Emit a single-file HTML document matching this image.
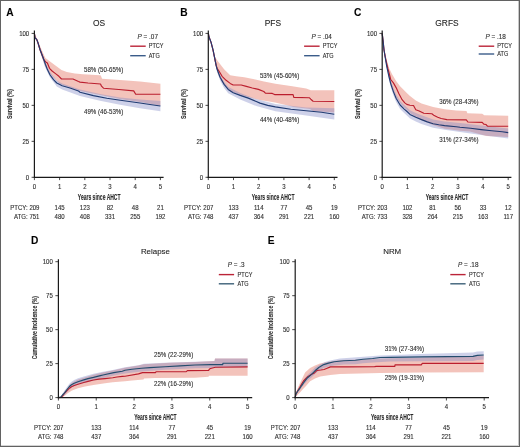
<!DOCTYPE html>
<html><head><meta charset="utf-8"><title>Figure</title>
<style>html,body{margin:0;padding:0;background:#fff;}svg{display:block;}text{font-family:"Liberation Sans",sans-serif;stroke:#333;stroke-width:0.12px;}</style>
</head><body>
<svg width="520" height="447" viewBox="0 0 520 447" font-family="Liberation Sans, sans-serif">
<rect x="0" y="0" width="520" height="447" fill="#fff"/>
<polygon points="34.4,33.4 36,36.5 40,46 43,53 45.4,58 50.7,62.1 56.1,66.1 61.5,70.1 66.8,72.1 74.9,73.5 83,74.2 100,75.3 100.8,75.5 102.1,78.8 120,80 140,81.5 160.4,83.8 160.4,105.4 140,102 120,99 100,95 80,91 60,84 50,74 45,66 40,52 34.4,33.4" fill="#e57a68" fill-opacity="0.45" stroke="none"/>
<polygon points="34.4,33.4 40,48.5 45,62 50,72 56.8,80.5 62.2,83.5 80,89.5 100,94 120,97.5 140,99.5 160.4,101 160.4,111.3 140,108.2 120,104.8 100,100.8 80,96 62.2,89.5 56.8,86.5 50,77.5 45,67 40,50.5 34.4,33.4" fill="#7f86c4" fill-opacity="0.38" stroke="none"/>
<polyline points="34.4,33.4 35.1,38 36.7,39.4 38,42.8 40,49.5 42,54.8 44.1,60.2 46.1,62.2 47.4,63 49.5,68.3 52.1,71 55.5,73.6 58.9,76.3 61.5,79 73,79 78.5,81.5 80,82.1 88,83 100.5,84 101.5,86.2 103.5,88.2 118.9,89.5 133.7,90.9 135.7,94.2 160.4,94.2" fill="none" stroke="#bb1e2e" stroke-width="1.15" stroke-linejoin="round"/>
<polyline points="34.4,33.4 35.1,38 36.7,39.4 38,42.8 40,49.5 42,54.8 44.1,60.2 45.4,64.2 47.4,69.6 50.1,75 53.5,79.7 56.8,83 62.2,85.7 70,88 78.5,91 80,92.2 93.4,95.6 106.8,98.3 120.3,100.3 140,103 150,104.5 160.4,106" fill="none" stroke="#213b72" stroke-width="1.15" stroke-linejoin="round"/>
<polygon points="208.3,33.2 210,38 212,45 214.1,55 216,58.5 218.1,61.5 224.1,69.3 230.2,75.3 236.2,76.3 244.3,77.3 254.3,79.3 264,81.4 275.4,83.8 292.3,86.2 306.2,88.5 310.8,90.3 334.3,90.3 334.3,112.5 313,111 310,109 293.5,107 290,106 275,102.5 260,100 240,95 230,91 222,82 218,74 215,63 211,44 208.3,33.2" fill="#e57a68" fill-opacity="0.45" stroke="none"/>
<polygon points="208.3,33.2 211,41 215.1,58.5 217.1,67.3 220.1,75.3 224.1,82 228.2,87 240.2,93 256.3,99 275.4,104 306.2,107.5 334.3,108.2 334.3,119.5 306.2,115.5 275.4,111.2 256.3,106 240.2,99.5 228.2,93.3 224.1,88 220.1,80.5 217.1,72 215.1,62.5 211,43 208.3,33.2" fill="#7f86c4" fill-opacity="0.38" stroke="none"/>
<polyline points="208.3,33.2 209,37 211,42.1 213.1,50.1 215.1,60.2 216.1,65.2 217.1,68.3 219.1,71.3 222.1,76.3 226.1,80.3 230.2,83.4 233.2,85 241.2,85 246.3,86.4 252.3,88 258.4,89.4 263.8,91.5 265.4,93.1 272.3,93.4 274.6,94.6 293.1,94.6 293.8,97.4 309.2,97.7 310.8,99.2 313.1,101.2 334.3,101.5" fill="none" stroke="#bb1e2e" stroke-width="1.15" stroke-linejoin="round"/>
<polyline points="208.3,33.2 209,37 211,42.1 213.1,50.1 215.1,60.2 216.1,65.2 217.1,69.3 220.1,77.3 224.1,84.4 228.2,89.4 233.2,92.8 240.2,95.4 248.3,98.1 256.3,101.5 260,103.1 267.7,105.4 275.4,106.9 290.8,109.2 306.2,110.8 321.5,112.3 334.3,114.3" fill="none" stroke="#213b72" stroke-width="1.15" stroke-linejoin="round"/>
<polygon points="382.2,33.6 384,47 386.7,60 389.4,68.8 392.1,74.2 396.1,80.9 400.1,86.2 406.8,93 410,96 415.8,100.6 421.5,103.5 433.1,106.9 444.6,109.2 456.2,110.6 466.5,111.1 467.4,113.2 482.2,113.7 484.3,115.3 508.2,115.7 508.2,137 486.4,136 470,131.5 460,130.7 444.6,128.8 433.1,125 421.5,120 415.8,117 410,113 404.2,107.5 400.1,103 396.1,97 393.4,91 390.7,84 388.7,76 386.7,67 384,52 382.2,33.6" fill="#e57a68" fill-opacity="0.45" stroke="none"/>
<polygon points="382.2,33.6 384,48.5 385.3,55.5 386.7,63.5 388.7,72.5 390.7,80.3 393.4,88 396.1,94.5 400.1,101 404.2,105 410,110.2 415.8,113 421.5,115.3 433.1,119.5 444.6,121.4 460,123.1 481.2,125.4 508.2,128.4 508.2,138.4 481.2,135 460,132 444.6,129.8 433.1,127.7 421.5,124 415.8,121.5 410,118.5 404.2,113 400.1,109 396.1,102 393.4,95.2 390.7,87 388.7,78.5 386.7,68.7 385.3,60.5 384,51.5 382.2,33.6" fill="#7f86c4" fill-opacity="0.38" stroke="none"/>
<polyline points="382.2,33.6 383,40 384,50 385.3,57 386.7,63.4 388,69 389.4,74.2 390.7,79.5 393.4,82.9 396.1,87.6 398.8,93.6 402.1,99.7 404.8,102.9 406.8,104.4 410,105.2 413.5,105.5 415.8,109.8 419.2,111 423.8,113.3 431.9,113.8 434.2,115.6 437.7,117.3 441.2,118.5 446.9,119.6 466.3,119.9 467.9,122 482.2,122.4 483.8,124.1 485.9,124.5 487.5,126.2 508.2,126.2" fill="none" stroke="#bb1e2e" stroke-width="1.15" stroke-linejoin="round"/>
<polyline points="382.2,33.6 383,40 384,50 385.3,58 386.7,66.1 388.7,75.5 390.7,83.6 393.4,91.6 396.1,98.3 400.1,105 404.2,109.1 407,111.5 410,114.4 415.8,117.3 421.5,119.6 427.3,121.9 433.1,123.7 438.8,124.8 444.6,125.6 456.2,126.8 460,127.3 470.6,128.3 481.2,129.6 491.7,130.7 502.3,131.7 508.2,132.6" fill="none" stroke="#213b72" stroke-width="1.15" stroke-linejoin="round"/>
<polygon points="58.4,397.6 61,396.8 63,394.3 65,391.5 67.5,388.3 69.4,385.5 71.5,383.3 74.2,381.5 78,379.6 83.8,377.7 93.5,374.8 103,372.6 112.7,370.6 125,367.8 138.5,365.6 144,364.2 170,362.8 195,362 214.5,360.9 215,358.5 247.6,358.5 247.6,375.7 209,375.7 208.5,376.7 195,377.8 155,378 144,378.5 143.5,379.5 132,380.4 125,381.2 112.7,382.3 105,383.3 93.5,385 85,386.5 78,388.3 72,390.5 68,393 65,395.5 62,397.4 58.4,397.6" fill="#e57a68" fill-opacity="0.45" stroke="none"/>
<polygon points="58.4,397.6 60.8,396.3 62.5,393.5 64.6,390.6 67,387 69.4,383.8 71.5,381.8 74.2,380 78,378.3 83.8,376.5 93.5,373.8 103,371.8 112.7,370 125,367.2 138.5,365.2 144,363.8 170,362.5 195,361.8 214.5,360.9 215,358.5 247.6,358.5 247.6,367.3 223,367.3 222.7,367.8 195,368.2 165,369.8 141.5,371.4 125,373.4 113.8,375.6 103,378.2 93.5,380.4 83.8,382.9 78,384.6 74.2,386.2 71.5,387.6 69.4,389.4 67,392.3 64.6,395.2 62.5,396.5 60.8,397.6 58.4,397.6" fill="#7f86c4" fill-opacity="0.38" stroke="none"/>
<polyline points="58.4,397.6 61,397.4 63,395.5 65,392.5 67.5,390 69.4,388.2 71.5,386.7 74.2,385.5 78,384.2 83.8,382.5 88,381.4 93.5,380 99,379.1 105,378.6 112.7,377.8 117,377 122.3,376.4 125,376.2 138.5,373.9 142.5,372.6 155.6,372.6 156,371.8 186.3,371.6 187.4,370.6 208.6,370.4 209.5,369.1 210.6,368.5 215.3,367.2 247.6,366.9" fill="none" stroke="#bb1e2e" stroke-width="1.15" stroke-linejoin="round"/>
<polyline points="58.4,397.6 60.8,397.1 62.5,395 64.6,392.9 67,389.5 69.4,386.5 71.5,384.8 74.2,383.3 78,381.7 83.8,379.9 88,378.6 93.5,377.4 100.4,375.6 103,375 113.8,372.6 122.3,371.2 125,370.2 132,369.3 141.5,368.2 150,367.6 165,366.7 180,365.9 195,365 210.6,364.6 222.7,364.6 223,363.2 247.6,363.2" fill="none" stroke="#244d6e" stroke-width="1.15" stroke-linejoin="round"/>
<polygon points="295.2,397.6 296,393 298,387.5 300,383 302,379 305.1,372.5 310.1,368.1 315,365.5 320,363.5 330,361.5 340,360 360,359.5 380,358.5 420,357.5 483.7,355.5 483.7,372.3 420,372.5 380,373 340,374.1 330.2,375.1 320.2,376.6 315,378.5 310.1,381.2 306,386 303,389 300,392.5 298,394.5 296,396.5 295.2,397.6" fill="#e57a68" fill-opacity="0.45" stroke="none"/>
<polygon points="295.2,397.6 295.8,393.4 297.5,390.2 299.6,387 301.5,383.8 303.5,380.6 305.4,377.8 307.3,375.2 311.2,371.5 315,367.6 320.2,364.6 325,362 330,360.5 340,358.5 360,357 380,355.5 420,354 473,352.5 477.3,351.5 483.7,351.2 483.7,359.6 477.3,360 473,360.9 422.3,361.3 390,361.6 372.7,362.6 363,363.2 355.4,364.2 343.8,364.6 334.2,365.4 328.5,366.6 323.7,367.9 318.8,370.7 315,374 311.2,377.7 307.3,380.8 305.4,383 303.5,385.2 301.5,387.8 299.6,390.4 297.5,392.8 295.8,395.4 295.2,397.6" fill="#7f86c4" fill-opacity="0.38" stroke="none"/>
<polyline points="295.2,397.6 295.8,394.4 297.5,391 299.6,387.7 301.5,384.3 303.5,381 305.4,379 307.3,377.1 311.2,374.6 314,373.3 317,370.4 320.8,370 324,369.5 326.5,368.5 330.4,366.9 347.7,366.9 374.6,366.6 376.5,366.4 390,366.4 394.8,366.4 395,364.9 421.3,364.9 422.3,363.4 483.7,363.4" fill="none" stroke="#bb1e2e" stroke-width="1.15" stroke-linejoin="round"/>
<polyline points="295.2,397.6 295.8,394.4 297.5,391.5 299.6,388.7 301.5,385.8 303.5,382.9 305.4,380.4 307.3,378 311.2,374.6 315,370.8 318.8,367.5 323.7,364.6 328.5,363.1 334.2,361.7 343.8,360.8 355.4,360.2 363,359.2 372.7,358.5 380,357.5 390,357.4 422.3,356.9 473,356.4 477.3,355.4 483.7,355" fill="none" stroke="#244d6e" stroke-width="1.15" stroke-linejoin="round"/>
<line x1="34.4" y1="30.5" x2="34.4" y2="177.9" stroke="#1a1a1a" stroke-width="1.2"/>
<line x1="33.8" y1="177.3" x2="163.6" y2="177.3" stroke="#1a1a1a" stroke-width="1.2"/>
<line x1="208.3" y1="30.5" x2="208.3" y2="177.9" stroke="#1a1a1a" stroke-width="1.2"/>
<line x1="207.7" y1="177.3" x2="337.5" y2="177.3" stroke="#1a1a1a" stroke-width="1.2"/>
<line x1="382.2" y1="30.5" x2="382.2" y2="177.9" stroke="#1a1a1a" stroke-width="1.2"/>
<line x1="381.6" y1="177.3" x2="511.4" y2="177.3" stroke="#1a1a1a" stroke-width="1.2"/>
<line x1="58.4" y1="259.2" x2="58.4" y2="398.2" stroke="#1a1a1a" stroke-width="1.2"/>
<line x1="57.8" y1="397.6" x2="252.2" y2="397.6" stroke="#1a1a1a" stroke-width="1.2"/>
<line x1="295.2" y1="259.2" x2="295.2" y2="398.2" stroke="#1a1a1a" stroke-width="1.2"/>
<line x1="294.6" y1="397.6" x2="489" y2="397.6" stroke="#1a1a1a" stroke-width="1.2"/>
<line x1="31.6" y1="177.3" x2="34.4" y2="177.3" stroke="#1a1a1a" stroke-width="0.8"/>
<line x1="31.6" y1="141.33" x2="34.4" y2="141.33" stroke="#1a1a1a" stroke-width="0.8"/>
<line x1="31.6" y1="105.35" x2="34.4" y2="105.35" stroke="#1a1a1a" stroke-width="0.8"/>
<line x1="31.6" y1="69.38" x2="34.4" y2="69.38" stroke="#1a1a1a" stroke-width="0.8"/>
<line x1="31.6" y1="33.4" x2="34.4" y2="33.4" stroke="#1a1a1a" stroke-width="0.8"/>
<line x1="34.4" y1="177.3" x2="34.4" y2="180.1" stroke="#1a1a1a" stroke-width="0.8"/>
<line x1="59.6" y1="177.3" x2="59.6" y2="180.1" stroke="#1a1a1a" stroke-width="0.8"/>
<line x1="84.8" y1="177.3" x2="84.8" y2="180.1" stroke="#1a1a1a" stroke-width="0.8"/>
<line x1="110" y1="177.3" x2="110" y2="180.1" stroke="#1a1a1a" stroke-width="0.8"/>
<line x1="135.2" y1="177.3" x2="135.2" y2="180.1" stroke="#1a1a1a" stroke-width="0.8"/>
<line x1="160.4" y1="177.3" x2="160.4" y2="180.1" stroke="#1a1a1a" stroke-width="0.8"/>
<line x1="130.2" y1="46.2" x2="145.7" y2="46.2" stroke="#bb2438" stroke-width="1.4"/>
<line x1="130.2" y1="55.7" x2="145.7" y2="55.7" stroke="#3b5c8a" stroke-width="1.4"/>
<line x1="205.5" y1="177.3" x2="208.3" y2="177.3" stroke="#1a1a1a" stroke-width="0.8"/>
<line x1="205.5" y1="141.33" x2="208.3" y2="141.33" stroke="#1a1a1a" stroke-width="0.8"/>
<line x1="205.5" y1="105.35" x2="208.3" y2="105.35" stroke="#1a1a1a" stroke-width="0.8"/>
<line x1="205.5" y1="69.38" x2="208.3" y2="69.38" stroke="#1a1a1a" stroke-width="0.8"/>
<line x1="205.5" y1="33.4" x2="208.3" y2="33.4" stroke="#1a1a1a" stroke-width="0.8"/>
<line x1="208.3" y1="177.3" x2="208.3" y2="180.1" stroke="#1a1a1a" stroke-width="0.8"/>
<line x1="233.5" y1="177.3" x2="233.5" y2="180.1" stroke="#1a1a1a" stroke-width="0.8"/>
<line x1="258.7" y1="177.3" x2="258.7" y2="180.1" stroke="#1a1a1a" stroke-width="0.8"/>
<line x1="283.9" y1="177.3" x2="283.9" y2="180.1" stroke="#1a1a1a" stroke-width="0.8"/>
<line x1="309.1" y1="177.3" x2="309.1" y2="180.1" stroke="#1a1a1a" stroke-width="0.8"/>
<line x1="334.3" y1="177.3" x2="334.3" y2="180.1" stroke="#1a1a1a" stroke-width="0.8"/>
<line x1="304.1" y1="46.2" x2="319.6" y2="46.2" stroke="#bb2438" stroke-width="1.4"/>
<line x1="304.1" y1="55.7" x2="319.6" y2="55.7" stroke="#3b5c8a" stroke-width="1.4"/>
<line x1="379.4" y1="177.3" x2="382.2" y2="177.3" stroke="#1a1a1a" stroke-width="0.8"/>
<line x1="379.4" y1="141.33" x2="382.2" y2="141.33" stroke="#1a1a1a" stroke-width="0.8"/>
<line x1="379.4" y1="105.35" x2="382.2" y2="105.35" stroke="#1a1a1a" stroke-width="0.8"/>
<line x1="379.4" y1="69.38" x2="382.2" y2="69.38" stroke="#1a1a1a" stroke-width="0.8"/>
<line x1="379.4" y1="33.4" x2="382.2" y2="33.4" stroke="#1a1a1a" stroke-width="0.8"/>
<line x1="382.2" y1="177.3" x2="382.2" y2="180.1" stroke="#1a1a1a" stroke-width="0.8"/>
<line x1="407.4" y1="177.3" x2="407.4" y2="180.1" stroke="#1a1a1a" stroke-width="0.8"/>
<line x1="432.6" y1="177.3" x2="432.6" y2="180.1" stroke="#1a1a1a" stroke-width="0.8"/>
<line x1="457.8" y1="177.3" x2="457.8" y2="180.1" stroke="#1a1a1a" stroke-width="0.8"/>
<line x1="483" y1="177.3" x2="483" y2="180.1" stroke="#1a1a1a" stroke-width="0.8"/>
<line x1="508.2" y1="177.3" x2="508.2" y2="180.1" stroke="#1a1a1a" stroke-width="0.8"/>
<line x1="478.7" y1="46.2" x2="494.2" y2="46.2" stroke="#bb2438" stroke-width="1.4"/>
<line x1="478.7" y1="54" x2="494.2" y2="54" stroke="#3b5c8a" stroke-width="1.4"/>
<line x1="55.4" y1="397.6" x2="58.4" y2="397.6" stroke="#1a1a1a" stroke-width="0.8"/>
<line x1="55.4" y1="363.62" x2="58.4" y2="363.62" stroke="#1a1a1a" stroke-width="0.8"/>
<line x1="55.4" y1="329.65" x2="58.4" y2="329.65" stroke="#1a1a1a" stroke-width="0.8"/>
<line x1="55.4" y1="295.68" x2="58.4" y2="295.68" stroke="#1a1a1a" stroke-width="0.8"/>
<line x1="55.4" y1="261.7" x2="58.4" y2="261.7" stroke="#1a1a1a" stroke-width="0.8"/>
<line x1="58.4" y1="397.6" x2="58.4" y2="400.5" stroke="#1a1a1a" stroke-width="0.8"/>
<line x1="96.24" y1="397.6" x2="96.24" y2="400.5" stroke="#1a1a1a" stroke-width="0.8"/>
<line x1="134.08" y1="397.6" x2="134.08" y2="400.5" stroke="#1a1a1a" stroke-width="0.8"/>
<line x1="171.92" y1="397.6" x2="171.92" y2="400.5" stroke="#1a1a1a" stroke-width="0.8"/>
<line x1="209.76" y1="397.6" x2="209.76" y2="400.5" stroke="#1a1a1a" stroke-width="0.8"/>
<line x1="247.6" y1="397.6" x2="247.6" y2="400.5" stroke="#1a1a1a" stroke-width="0.8"/>
<line x1="218.8" y1="274.6" x2="234.1" y2="274.6" stroke="#bb2438" stroke-width="1.4"/>
<line x1="218.8" y1="283.8" x2="234.1" y2="283.8" stroke="#3d6078" stroke-width="1.4"/>
<line x1="292.2" y1="397.6" x2="295.2" y2="397.6" stroke="#1a1a1a" stroke-width="0.8"/>
<line x1="292.2" y1="363.62" x2="295.2" y2="363.62" stroke="#1a1a1a" stroke-width="0.8"/>
<line x1="292.2" y1="329.65" x2="295.2" y2="329.65" stroke="#1a1a1a" stroke-width="0.8"/>
<line x1="292.2" y1="295.68" x2="295.2" y2="295.68" stroke="#1a1a1a" stroke-width="0.8"/>
<line x1="292.2" y1="261.7" x2="295.2" y2="261.7" stroke="#1a1a1a" stroke-width="0.8"/>
<line x1="295.2" y1="397.6" x2="295.2" y2="400.5" stroke="#1a1a1a" stroke-width="0.8"/>
<line x1="333" y1="397.6" x2="333" y2="400.5" stroke="#1a1a1a" stroke-width="0.8"/>
<line x1="370.8" y1="397.6" x2="370.8" y2="400.5" stroke="#1a1a1a" stroke-width="0.8"/>
<line x1="408.6" y1="397.6" x2="408.6" y2="400.5" stroke="#1a1a1a" stroke-width="0.8"/>
<line x1="446.4" y1="397.6" x2="446.4" y2="400.5" stroke="#1a1a1a" stroke-width="0.8"/>
<line x1="484.2" y1="397.6" x2="484.2" y2="400.5" stroke="#1a1a1a" stroke-width="0.8"/>
<line x1="450.3" y1="274.6" x2="465.6" y2="274.6" stroke="#bb2438" stroke-width="1.4"/>
<line x1="450.3" y1="283.8" x2="465.6" y2="283.8" stroke="#3d6078" stroke-width="1.4"/>
<g style="filter:blur(0.2px)">
<text x="6.3" y="15.6" font-size="10.2" text-anchor="start" font-weight="bold" fill="#000">A</text>
<text x="99" y="25.9" font-size="8.4" text-anchor="middle" font-weight="normal" fill="#222">OS</text>
<text transform="translate(29.2 179.8) scale(0.95 1)" font-size="6.35" text-anchor="end" font-weight="normal" fill="#2e2e2e">0</text>
<text transform="translate(29.2 143.83) scale(0.95 1)" font-size="6.35" text-anchor="end" font-weight="normal" fill="#2e2e2e">25</text>
<text transform="translate(29.2 107.85) scale(0.95 1)" font-size="6.35" text-anchor="end" font-weight="normal" fill="#2e2e2e">50</text>
<text transform="translate(29.2 71.88) scale(0.95 1)" font-size="6.35" text-anchor="end" font-weight="normal" fill="#2e2e2e">75</text>
<text transform="translate(29.2 35.9) scale(0.95 1)" font-size="6.35" text-anchor="end" font-weight="normal" fill="#2e2e2e">100</text>
<text transform="translate(34.4 188.9) scale(0.95 1)" font-size="6.35" text-anchor="middle" font-weight="normal" fill="#2e2e2e">0</text>
<text transform="translate(34.4 209.7) scale(0.95 1)" font-size="6.35" text-anchor="middle" font-weight="normal" fill="#2e2e2e">209</text>
<text transform="translate(34.4 219.1) scale(0.95 1)" font-size="6.35" text-anchor="middle" font-weight="normal" fill="#2e2e2e">751</text>
<text transform="translate(59.6 188.9) scale(0.95 1)" font-size="6.35" text-anchor="middle" font-weight="normal" fill="#2e2e2e">1</text>
<text transform="translate(59.6 209.7) scale(0.95 1)" font-size="6.35" text-anchor="middle" font-weight="normal" fill="#2e2e2e">145</text>
<text transform="translate(59.6 219.1) scale(0.95 1)" font-size="6.35" text-anchor="middle" font-weight="normal" fill="#2e2e2e">480</text>
<text transform="translate(84.8 188.9) scale(0.95 1)" font-size="6.35" text-anchor="middle" font-weight="normal" fill="#2e2e2e">2</text>
<text transform="translate(84.8 209.7) scale(0.95 1)" font-size="6.35" text-anchor="middle" font-weight="normal" fill="#2e2e2e">123</text>
<text transform="translate(84.8 219.1) scale(0.95 1)" font-size="6.35" text-anchor="middle" font-weight="normal" fill="#2e2e2e">408</text>
<text transform="translate(110 188.9) scale(0.95 1)" font-size="6.35" text-anchor="middle" font-weight="normal" fill="#2e2e2e">3</text>
<text transform="translate(110 209.7) scale(0.95 1)" font-size="6.35" text-anchor="middle" font-weight="normal" fill="#2e2e2e">82</text>
<text transform="translate(110 219.1) scale(0.95 1)" font-size="6.35" text-anchor="middle" font-weight="normal" fill="#2e2e2e">331</text>
<text transform="translate(135.2 188.9) scale(0.95 1)" font-size="6.35" text-anchor="middle" font-weight="normal" fill="#2e2e2e">4</text>
<text transform="translate(135.2 209.7) scale(0.95 1)" font-size="6.35" text-anchor="middle" font-weight="normal" fill="#2e2e2e">48</text>
<text transform="translate(135.2 219.1) scale(0.95 1)" font-size="6.35" text-anchor="middle" font-weight="normal" fill="#2e2e2e">255</text>
<text transform="translate(160.4 188.9) scale(0.95 1)" font-size="6.35" text-anchor="middle" font-weight="normal" fill="#2e2e2e">5</text>
<text transform="translate(160.4 209.7) scale(0.95 1)" font-size="6.35" text-anchor="middle" font-weight="normal" fill="#2e2e2e">21</text>
<text transform="translate(160.4 219.1) scale(0.95 1)" font-size="6.35" text-anchor="middle" font-weight="normal" fill="#2e2e2e">192</text>
<text transform="translate(27.6 209.7) scale(0.95 1)" font-size="6.35" text-anchor="end" font-weight="normal" fill="#2e2e2e">PTCY:</text>
<text transform="translate(27.6 219.1) scale(0.95 1)" font-size="6.35" text-anchor="end" font-weight="normal" fill="#2e2e2e">ATG:</text>
<text x="99.2" y="199.6" font-size="8.2" text-anchor="middle" font-weight="bold" fill="#2a2a2a" textLength="42.7" lengthAdjust="spacingAndGlyphs">Years since AHCT</text>
<text x="12.3" y="103.9" font-size="7" text-anchor="middle" font-weight="bold" fill="#2e2e2e" textLength="30" lengthAdjust="spacingAndGlyphs" transform="rotate(-90 12.3 103.9)">Survival (%)</text>
<text x="137.5" y="38.8" font-size="6.4" fill="#2e2e2e"><tspan font-style="italic">P</tspan> = .07</text>
<text transform="translate(148.8 48.4) scale(0.88 1)" font-size="6.3" text-anchor="start" font-weight="normal" fill="#2e2e2e">PTCY</text>
<text transform="translate(148.8 57.9) scale(0.88 1)" font-size="6.3" text-anchor="start" font-weight="normal" fill="#2e2e2e">ATG</text>
<text transform="translate(84 71.6) scale(0.95 1)" font-size="6.5" text-anchor="start" font-weight="normal" fill="#2e2e2e">58% (50-65%)</text>
<text transform="translate(84 113.6) scale(0.95 1)" font-size="6.5" text-anchor="start" font-weight="normal" fill="#2e2e2e">49% (46-53%)</text>
<text x="180.2" y="15.6" font-size="10.2" text-anchor="start" font-weight="bold" fill="#000">B</text>
<text x="272.9" y="25.9" font-size="8.4" text-anchor="middle" font-weight="normal" fill="#222">PFS</text>
<text transform="translate(203.1 179.8) scale(0.95 1)" font-size="6.35" text-anchor="end" font-weight="normal" fill="#2e2e2e">0</text>
<text transform="translate(203.1 143.83) scale(0.95 1)" font-size="6.35" text-anchor="end" font-weight="normal" fill="#2e2e2e">25</text>
<text transform="translate(203.1 107.85) scale(0.95 1)" font-size="6.35" text-anchor="end" font-weight="normal" fill="#2e2e2e">50</text>
<text transform="translate(203.1 71.88) scale(0.95 1)" font-size="6.35" text-anchor="end" font-weight="normal" fill="#2e2e2e">75</text>
<text transform="translate(203.1 35.9) scale(0.95 1)" font-size="6.35" text-anchor="end" font-weight="normal" fill="#2e2e2e">100</text>
<text transform="translate(208.3 188.9) scale(0.95 1)" font-size="6.35" text-anchor="middle" font-weight="normal" fill="#2e2e2e">0</text>
<text transform="translate(208.3 209.7) scale(0.95 1)" font-size="6.35" text-anchor="middle" font-weight="normal" fill="#2e2e2e">207</text>
<text transform="translate(208.3 219.1) scale(0.95 1)" font-size="6.35" text-anchor="middle" font-weight="normal" fill="#2e2e2e">748</text>
<text transform="translate(233.5 188.9) scale(0.95 1)" font-size="6.35" text-anchor="middle" font-weight="normal" fill="#2e2e2e">1</text>
<text transform="translate(233.5 209.7) scale(0.95 1)" font-size="6.35" text-anchor="middle" font-weight="normal" fill="#2e2e2e">133</text>
<text transform="translate(233.5 219.1) scale(0.95 1)" font-size="6.35" text-anchor="middle" font-weight="normal" fill="#2e2e2e">437</text>
<text transform="translate(258.7 188.9) scale(0.95 1)" font-size="6.35" text-anchor="middle" font-weight="normal" fill="#2e2e2e">2</text>
<text transform="translate(258.7 209.7) scale(0.95 1)" font-size="6.35" text-anchor="middle" font-weight="normal" fill="#2e2e2e">114</text>
<text transform="translate(258.7 219.1) scale(0.95 1)" font-size="6.35" text-anchor="middle" font-weight="normal" fill="#2e2e2e">364</text>
<text transform="translate(283.9 188.9) scale(0.95 1)" font-size="6.35" text-anchor="middle" font-weight="normal" fill="#2e2e2e">3</text>
<text transform="translate(283.9 209.7) scale(0.95 1)" font-size="6.35" text-anchor="middle" font-weight="normal" fill="#2e2e2e">77</text>
<text transform="translate(283.9 219.1) scale(0.95 1)" font-size="6.35" text-anchor="middle" font-weight="normal" fill="#2e2e2e">291</text>
<text transform="translate(309.1 188.9) scale(0.95 1)" font-size="6.35" text-anchor="middle" font-weight="normal" fill="#2e2e2e">4</text>
<text transform="translate(309.1 209.7) scale(0.95 1)" font-size="6.35" text-anchor="middle" font-weight="normal" fill="#2e2e2e">45</text>
<text transform="translate(309.1 219.1) scale(0.95 1)" font-size="6.35" text-anchor="middle" font-weight="normal" fill="#2e2e2e">221</text>
<text transform="translate(334.3 188.9) scale(0.95 1)" font-size="6.35" text-anchor="middle" font-weight="normal" fill="#2e2e2e">5</text>
<text transform="translate(334.3 209.7) scale(0.95 1)" font-size="6.35" text-anchor="middle" font-weight="normal" fill="#2e2e2e">19</text>
<text transform="translate(334.3 219.1) scale(0.95 1)" font-size="6.35" text-anchor="middle" font-weight="normal" fill="#2e2e2e">160</text>
<text transform="translate(201.5 209.7) scale(0.95 1)" font-size="6.35" text-anchor="end" font-weight="normal" fill="#2e2e2e">PTCY:</text>
<text transform="translate(201.5 219.1) scale(0.95 1)" font-size="6.35" text-anchor="end" font-weight="normal" fill="#2e2e2e">ATG:</text>
<text x="273.1" y="199.6" font-size="8.2" text-anchor="middle" font-weight="bold" fill="#2a2a2a" textLength="42.7" lengthAdjust="spacingAndGlyphs">Years since AHCT</text>
<text x="186.2" y="103.9" font-size="7" text-anchor="middle" font-weight="bold" fill="#2e2e2e" textLength="30" lengthAdjust="spacingAndGlyphs" transform="rotate(-90 186.2 103.9)">Survival (%)</text>
<text x="311.4" y="38.8" font-size="6.4" fill="#2e2e2e"><tspan font-style="italic">P</tspan> = .04</text>
<text transform="translate(322.7 48.4) scale(0.88 1)" font-size="6.3" text-anchor="start" font-weight="normal" fill="#2e2e2e">PTCY</text>
<text transform="translate(322.7 57.9) scale(0.88 1)" font-size="6.3" text-anchor="start" font-weight="normal" fill="#2e2e2e">ATG</text>
<text transform="translate(259.9 78.4) scale(0.95 1)" font-size="6.5" text-anchor="start" font-weight="normal" fill="#2e2e2e">53% (45-60%)</text>
<text transform="translate(259.9 122.2) scale(0.95 1)" font-size="6.5" text-anchor="start" font-weight="normal" fill="#2e2e2e">44% (40-48%)</text>
<text x="354.1" y="15.6" font-size="10.2" text-anchor="start" font-weight="bold" fill="#000">C</text>
<text x="447" y="25.9" font-size="8.4" text-anchor="middle" font-weight="normal" fill="#222">GRFS</text>
<text transform="translate(377 179.8) scale(0.95 1)" font-size="6.35" text-anchor="end" font-weight="normal" fill="#2e2e2e">0</text>
<text transform="translate(377 143.83) scale(0.95 1)" font-size="6.35" text-anchor="end" font-weight="normal" fill="#2e2e2e">25</text>
<text transform="translate(377 107.85) scale(0.95 1)" font-size="6.35" text-anchor="end" font-weight="normal" fill="#2e2e2e">50</text>
<text transform="translate(377 71.88) scale(0.95 1)" font-size="6.35" text-anchor="end" font-weight="normal" fill="#2e2e2e">75</text>
<text transform="translate(377 35.9) scale(0.95 1)" font-size="6.35" text-anchor="end" font-weight="normal" fill="#2e2e2e">100</text>
<text transform="translate(382.2 188.9) scale(0.95 1)" font-size="6.35" text-anchor="middle" font-weight="normal" fill="#2e2e2e">0</text>
<text transform="translate(382.2 209.7) scale(0.95 1)" font-size="6.35" text-anchor="middle" font-weight="normal" fill="#2e2e2e">203</text>
<text transform="translate(382.2 219.1) scale(0.95 1)" font-size="6.35" text-anchor="middle" font-weight="normal" fill="#2e2e2e">733</text>
<text transform="translate(407.4 188.9) scale(0.95 1)" font-size="6.35" text-anchor="middle" font-weight="normal" fill="#2e2e2e">1</text>
<text transform="translate(407.4 209.7) scale(0.95 1)" font-size="6.35" text-anchor="middle" font-weight="normal" fill="#2e2e2e">102</text>
<text transform="translate(407.4 219.1) scale(0.95 1)" font-size="6.35" text-anchor="middle" font-weight="normal" fill="#2e2e2e">328</text>
<text transform="translate(432.6 188.9) scale(0.95 1)" font-size="6.35" text-anchor="middle" font-weight="normal" fill="#2e2e2e">2</text>
<text transform="translate(432.6 209.7) scale(0.95 1)" font-size="6.35" text-anchor="middle" font-weight="normal" fill="#2e2e2e">81</text>
<text transform="translate(432.6 219.1) scale(0.95 1)" font-size="6.35" text-anchor="middle" font-weight="normal" fill="#2e2e2e">264</text>
<text transform="translate(457.8 188.9) scale(0.95 1)" font-size="6.35" text-anchor="middle" font-weight="normal" fill="#2e2e2e">3</text>
<text transform="translate(457.8 209.7) scale(0.95 1)" font-size="6.35" text-anchor="middle" font-weight="normal" fill="#2e2e2e">56</text>
<text transform="translate(457.8 219.1) scale(0.95 1)" font-size="6.35" text-anchor="middle" font-weight="normal" fill="#2e2e2e">215</text>
<text transform="translate(483 188.9) scale(0.95 1)" font-size="6.35" text-anchor="middle" font-weight="normal" fill="#2e2e2e">4</text>
<text transform="translate(483 209.7) scale(0.95 1)" font-size="6.35" text-anchor="middle" font-weight="normal" fill="#2e2e2e">33</text>
<text transform="translate(483 219.1) scale(0.95 1)" font-size="6.35" text-anchor="middle" font-weight="normal" fill="#2e2e2e">163</text>
<text transform="translate(508.2 188.9) scale(0.95 1)" font-size="6.35" text-anchor="middle" font-weight="normal" fill="#2e2e2e">5</text>
<text transform="translate(508.2 209.7) scale(0.95 1)" font-size="6.35" text-anchor="middle" font-weight="normal" fill="#2e2e2e">12</text>
<text transform="translate(508.2 219.1) scale(0.95 1)" font-size="6.35" text-anchor="middle" font-weight="normal" fill="#2e2e2e">117</text>
<text transform="translate(375.4 209.7) scale(0.95 1)" font-size="6.35" text-anchor="end" font-weight="normal" fill="#2e2e2e">PTCY:</text>
<text transform="translate(375.4 219.1) scale(0.95 1)" font-size="6.35" text-anchor="end" font-weight="normal" fill="#2e2e2e">ATG:</text>
<text x="447" y="199.6" font-size="8.2" text-anchor="middle" font-weight="bold" fill="#2a2a2a" textLength="42.7" lengthAdjust="spacingAndGlyphs">Years since AHCT</text>
<text x="360.1" y="103.9" font-size="7" text-anchor="middle" font-weight="bold" fill="#2e2e2e" textLength="30" lengthAdjust="spacingAndGlyphs" transform="rotate(-90 360.1 103.9)">Survival (%)</text>
<text x="485.4" y="38.8" font-size="6.4" fill="#2e2e2e"><tspan font-style="italic">P</tspan> = .18</text>
<text transform="translate(497.3 48.4) scale(0.88 1)" font-size="6.3" text-anchor="start" font-weight="normal" fill="#2e2e2e">PTCY</text>
<text transform="translate(497.3 56.2) scale(0.88 1)" font-size="6.3" text-anchor="start" font-weight="normal" fill="#2e2e2e">ATG</text>
<text transform="translate(439.2 103.9) scale(0.95 1)" font-size="6.5" text-anchor="start" font-weight="normal" fill="#2e2e2e">36% (28-43%)</text>
<text transform="translate(439.2 141.5) scale(0.95 1)" font-size="6.5" text-anchor="start" font-weight="normal" fill="#2e2e2e">31% (27-34%)</text>
<text x="31" y="244.2" font-size="10.2" text-anchor="start" font-weight="bold" fill="#000">D</text>
<text x="155.4" y="254.3" font-size="7.9" text-anchor="middle" font-weight="normal" fill="#222">Relapse</text>
<text transform="translate(52.8 400.1) scale(0.95 1)" font-size="6.35" text-anchor="end" font-weight="normal" fill="#2e2e2e">0</text>
<text transform="translate(52.8 366.12) scale(0.95 1)" font-size="6.35" text-anchor="end" font-weight="normal" fill="#2e2e2e">25</text>
<text transform="translate(52.8 332.15) scale(0.95 1)" font-size="6.35" text-anchor="end" font-weight="normal" fill="#2e2e2e">50</text>
<text transform="translate(52.8 298.18) scale(0.95 1)" font-size="6.35" text-anchor="end" font-weight="normal" fill="#2e2e2e">75</text>
<text transform="translate(52.8 264.2) scale(0.95 1)" font-size="6.35" text-anchor="end" font-weight="normal" fill="#2e2e2e">100</text>
<text transform="translate(58.4 409) scale(0.95 1)" font-size="6.35" text-anchor="middle" font-weight="normal" fill="#2e2e2e">0</text>
<text transform="translate(58.4 429.6) scale(0.95 1)" font-size="6.35" text-anchor="middle" font-weight="normal" fill="#2e2e2e">207</text>
<text transform="translate(58.4 439.3) scale(0.95 1)" font-size="6.35" text-anchor="middle" font-weight="normal" fill="#2e2e2e">748</text>
<text transform="translate(96.24 409) scale(0.95 1)" font-size="6.35" text-anchor="middle" font-weight="normal" fill="#2e2e2e">1</text>
<text transform="translate(96.24 429.6) scale(0.95 1)" font-size="6.35" text-anchor="middle" font-weight="normal" fill="#2e2e2e">133</text>
<text transform="translate(96.24 439.3) scale(0.95 1)" font-size="6.35" text-anchor="middle" font-weight="normal" fill="#2e2e2e">437</text>
<text transform="translate(134.08 409) scale(0.95 1)" font-size="6.35" text-anchor="middle" font-weight="normal" fill="#2e2e2e">2</text>
<text transform="translate(134.08 429.6) scale(0.95 1)" font-size="6.35" text-anchor="middle" font-weight="normal" fill="#2e2e2e">114</text>
<text transform="translate(134.08 439.3) scale(0.95 1)" font-size="6.35" text-anchor="middle" font-weight="normal" fill="#2e2e2e">364</text>
<text transform="translate(171.92 409) scale(0.95 1)" font-size="6.35" text-anchor="middle" font-weight="normal" fill="#2e2e2e">3</text>
<text transform="translate(171.92 429.6) scale(0.95 1)" font-size="6.35" text-anchor="middle" font-weight="normal" fill="#2e2e2e">77</text>
<text transform="translate(171.92 439.3) scale(0.95 1)" font-size="6.35" text-anchor="middle" font-weight="normal" fill="#2e2e2e">291</text>
<text transform="translate(209.76 409) scale(0.95 1)" font-size="6.35" text-anchor="middle" font-weight="normal" fill="#2e2e2e">4</text>
<text transform="translate(209.76 429.6) scale(0.95 1)" font-size="6.35" text-anchor="middle" font-weight="normal" fill="#2e2e2e">45</text>
<text transform="translate(209.76 439.3) scale(0.95 1)" font-size="6.35" text-anchor="middle" font-weight="normal" fill="#2e2e2e">221</text>
<text transform="translate(247.6 409) scale(0.95 1)" font-size="6.35" text-anchor="middle" font-weight="normal" fill="#2e2e2e">5</text>
<text transform="translate(247.6 429.6) scale(0.95 1)" font-size="6.35" text-anchor="middle" font-weight="normal" fill="#2e2e2e">19</text>
<text transform="translate(247.6 439.3) scale(0.95 1)" font-size="6.35" text-anchor="middle" font-weight="normal" fill="#2e2e2e">160</text>
<text transform="translate(51.5 429.6) scale(0.95 1)" font-size="6.35" text-anchor="end" font-weight="normal" fill="#2e2e2e">PTCY:</text>
<text transform="translate(51.5 439.3) scale(0.95 1)" font-size="6.35" text-anchor="end" font-weight="normal" fill="#2e2e2e">ATG:</text>
<text x="155.4" y="420.1" font-size="8.2" text-anchor="middle" font-weight="bold" fill="#2a2a2a" textLength="42.4" lengthAdjust="spacingAndGlyphs">Years since AHCT</text>
<text x="36.6" y="327.7" font-size="6.8" text-anchor="middle" font-weight="bold" fill="#2e2e2e" textLength="63.3" lengthAdjust="spacingAndGlyphs" transform="rotate(-90 36.6 327.7)">Cumulative incidence (%)</text>
<text x="227.8" y="267.1" font-size="6.4" fill="#2e2e2e"><tspan font-style="italic">P</tspan> = .3</text>
<text transform="translate(237.6 276.8) scale(0.88 1)" font-size="6.3" text-anchor="start" font-weight="normal" fill="#2e2e2e">PTCY</text>
<text transform="translate(237.6 286) scale(0.88 1)" font-size="6.3" text-anchor="start" font-weight="normal" fill="#2e2e2e">ATG</text>
<text transform="translate(154 357.3) scale(0.95 1)" font-size="6.5" text-anchor="start" font-weight="normal" fill="#2e2e2e">25% (22-29%)</text>
<text transform="translate(154 386.2) scale(0.95 1)" font-size="6.5" text-anchor="start" font-weight="normal" fill="#2e2e2e">22% (16-29%)</text>
<text x="267.8" y="244.2" font-size="10.2" text-anchor="start" font-weight="bold" fill="#000">E</text>
<text x="392.2" y="254.3" font-size="7.9" text-anchor="middle" font-weight="normal" fill="#222">NRM</text>
<text transform="translate(289.6 400.1) scale(0.95 1)" font-size="6.35" text-anchor="end" font-weight="normal" fill="#2e2e2e">0</text>
<text transform="translate(289.6 366.12) scale(0.95 1)" font-size="6.35" text-anchor="end" font-weight="normal" fill="#2e2e2e">25</text>
<text transform="translate(289.6 332.15) scale(0.95 1)" font-size="6.35" text-anchor="end" font-weight="normal" fill="#2e2e2e">50</text>
<text transform="translate(289.6 298.18) scale(0.95 1)" font-size="6.35" text-anchor="end" font-weight="normal" fill="#2e2e2e">75</text>
<text transform="translate(289.6 264.2) scale(0.95 1)" font-size="6.35" text-anchor="end" font-weight="normal" fill="#2e2e2e">100</text>
<text transform="translate(295.2 409) scale(0.95 1)" font-size="6.35" text-anchor="middle" font-weight="normal" fill="#2e2e2e">0</text>
<text transform="translate(295.2 429.6) scale(0.95 1)" font-size="6.35" text-anchor="middle" font-weight="normal" fill="#2e2e2e">207</text>
<text transform="translate(295.2 439.3) scale(0.95 1)" font-size="6.35" text-anchor="middle" font-weight="normal" fill="#2e2e2e">748</text>
<text transform="translate(333 409) scale(0.95 1)" font-size="6.35" text-anchor="middle" font-weight="normal" fill="#2e2e2e">1</text>
<text transform="translate(333 429.6) scale(0.95 1)" font-size="6.35" text-anchor="middle" font-weight="normal" fill="#2e2e2e">133</text>
<text transform="translate(333 439.3) scale(0.95 1)" font-size="6.35" text-anchor="middle" font-weight="normal" fill="#2e2e2e">437</text>
<text transform="translate(370.8 409) scale(0.95 1)" font-size="6.35" text-anchor="middle" font-weight="normal" fill="#2e2e2e">2</text>
<text transform="translate(370.8 429.6) scale(0.95 1)" font-size="6.35" text-anchor="middle" font-weight="normal" fill="#2e2e2e">114</text>
<text transform="translate(370.8 439.3) scale(0.95 1)" font-size="6.35" text-anchor="middle" font-weight="normal" fill="#2e2e2e">364</text>
<text transform="translate(408.6 409) scale(0.95 1)" font-size="6.35" text-anchor="middle" font-weight="normal" fill="#2e2e2e">3</text>
<text transform="translate(408.6 429.6) scale(0.95 1)" font-size="6.35" text-anchor="middle" font-weight="normal" fill="#2e2e2e">77</text>
<text transform="translate(408.6 439.3) scale(0.95 1)" font-size="6.35" text-anchor="middle" font-weight="normal" fill="#2e2e2e">291</text>
<text transform="translate(446.4 409) scale(0.95 1)" font-size="6.35" text-anchor="middle" font-weight="normal" fill="#2e2e2e">4</text>
<text transform="translate(446.4 429.6) scale(0.95 1)" font-size="6.35" text-anchor="middle" font-weight="normal" fill="#2e2e2e">45</text>
<text transform="translate(446.4 439.3) scale(0.95 1)" font-size="6.35" text-anchor="middle" font-weight="normal" fill="#2e2e2e">221</text>
<text transform="translate(484.2 409) scale(0.95 1)" font-size="6.35" text-anchor="middle" font-weight="normal" fill="#2e2e2e">5</text>
<text transform="translate(484.2 429.6) scale(0.95 1)" font-size="6.35" text-anchor="middle" font-weight="normal" fill="#2e2e2e">19</text>
<text transform="translate(484.2 439.3) scale(0.95 1)" font-size="6.35" text-anchor="middle" font-weight="normal" fill="#2e2e2e">160</text>
<text transform="translate(288.3 429.6) scale(0.95 1)" font-size="6.35" text-anchor="end" font-weight="normal" fill="#2e2e2e">PTCY:</text>
<text transform="translate(288.3 439.3) scale(0.95 1)" font-size="6.35" text-anchor="end" font-weight="normal" fill="#2e2e2e">ATG:</text>
<text x="392.2" y="420.1" font-size="8.2" text-anchor="middle" font-weight="bold" fill="#2a2a2a" textLength="42.4" lengthAdjust="spacingAndGlyphs">Years since AHCT</text>
<text x="273.4" y="327.7" font-size="6.8" text-anchor="middle" font-weight="bold" fill="#2e2e2e" textLength="63.3" lengthAdjust="spacingAndGlyphs" transform="rotate(-90 273.4 327.7)">Cumulative incidence (%)</text>
<text x="458" y="267.1" font-size="6.4" fill="#2e2e2e"><tspan font-style="italic">P</tspan> = .18</text>
<text transform="translate(469.1 276.8) scale(0.88 1)" font-size="6.3" text-anchor="start" font-weight="normal" fill="#2e2e2e">PTCY</text>
<text transform="translate(469.1 286) scale(0.88 1)" font-size="6.3" text-anchor="start" font-weight="normal" fill="#2e2e2e">ATG</text>
<text transform="translate(384.7 351.2) scale(0.95 1)" font-size="6.5" text-anchor="start" font-weight="normal" fill="#2e2e2e">31% (27-34%)</text>
<text transform="translate(384.7 379.8) scale(0.95 1)" font-size="6.5" text-anchor="start" font-weight="normal" fill="#2e2e2e">25% (19-31%)</text>
</g>
<line x1="518.5" y1="1" x2="518.5" y2="446" stroke="#c8c8c8" stroke-width="1"/>
<line x1="1" y1="445.5" x2="519" y2="445.5" stroke="#d4d4d4" stroke-width="1"/>
<rect x="0.5" y="0.5" width="519" height="446" fill="none" stroke="#626262" stroke-width="1"/>
</svg>
</body></html>
